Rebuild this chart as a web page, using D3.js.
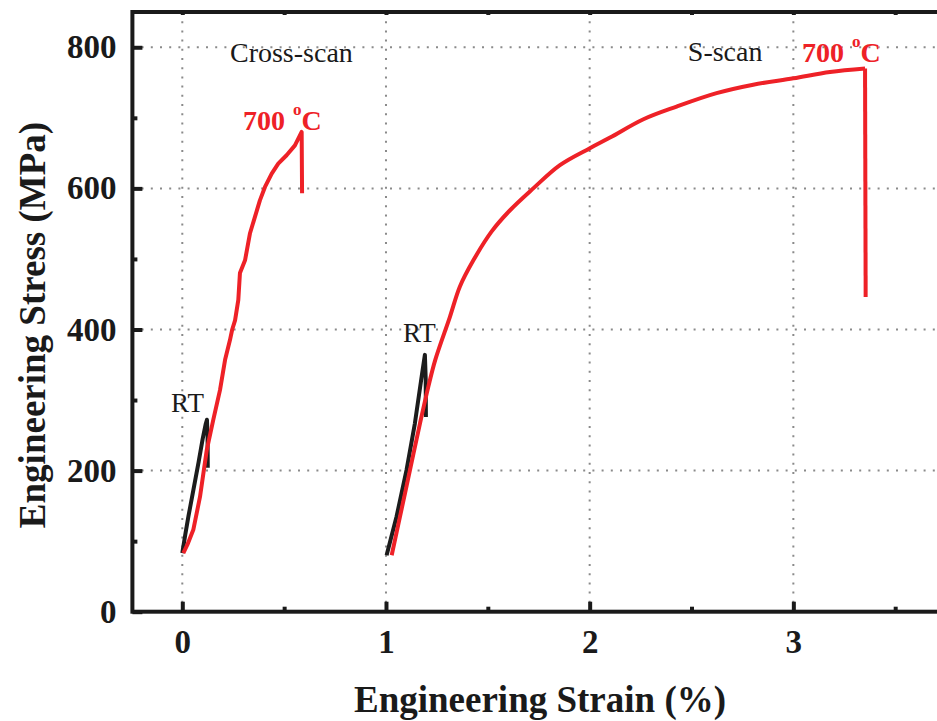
<!DOCTYPE html>
<head>
    <style>
    body { margin: 0; background: #fff; }
    svg { font-family: "Liberation Serif", "Times New Roman", serif; }
    .grid line { stroke: #8a8a8a; stroke-width: 2; stroke-dasharray: 2,7.2; }
    .axis .domain { display: none; }
    .axis line { stroke: #1a1a1a; stroke-width: 4; }
    .axis text { font-size: 33px; font-weight: bold; fill: #1a1a1a; font-family: "Liberation Serif", serif; }
    .frame { stroke: #1a1a1a; stroke-width: 4; fill: none; }
    .curve { fill: none; stroke-width: 4; stroke-linejoin: round; stroke-linecap: butt; }
    </style>
    <script src="https://d3js.org/d3.v7.min.js"></script>
</head>
<body>
    <svg width="937" height="721"></svg>
    <script>

    // strain (%), stress (MPa)
    var crossRT = [[0, 83], [0.015, 110], [0.03, 135], [0.054, 172], [0.08, 212], [0.1, 245], [0.115, 266], [0.121, 272], [0.124, 250], [0.125, 204]];
    var crossHT = [[0.005, 83], [0.025, 95], [0.054, 116], [0.087, 163], [0.12, 229], [0.152, 272], [0.185, 314], [0.21, 357], [0.234, 385], [0.245, 400],
                   [0.259, 413], [0.275, 442], [0.283, 480], [0.308, 498], [0.332, 536], [0.357, 560], [0.381, 583], [0.406, 602],
                   [0.439, 621], [0.471, 635], [0.512, 647], [0.553, 661], [0.586, 680], [0.588, 593]];
    var sRT = [[1.003, 80], [1.052, 135], [1.101, 201], [1.142, 267], [1.175, 333], [1.191, 364], [1.195, 330], [1.196, 276]];
    var sHT = [[1.028, 80], [1.069, 135], [1.118, 201], [1.167, 267], [1.208, 319], [1.242, 357], [1.314, 418], [1.363, 461],
               [1.429, 498], [1.519, 539], [1.609, 569], [1.723, 600], [1.854, 633], [2.001, 657], [2.1, 672],
               [2.264, 698], [2.427, 716], [2.623, 735], [2.803, 747], [3.0, 756], [3.18, 765], [3.352, 770]];
    var sHTDrop = [[3.352, 770], [3.355, 446]];

    var xTicks = [0, 1, 2, 3],
        xMinor = [0.5, 1.5, 2.5, 3.5],
        yTicks = [0, 200, 400, 600, 800],
        yMinor = [100, 300, 500, 700];

    var svg = d3.select("svg");

    var x = d3.scaleLinear().domain([-0.245, 3.72]).range([132.4, 940]);
    var y = d3.scaleLinear().domain([0, 850]).range([611.7, 12]);

    // dotted grid
    svg.append("g").attr("class", "grid")
      .selectAll("line").data(xTicks).enter().append("line")
        .attr("x1", function(d) { return x(d); }).attr("x2", function(d) { return x(d); })
        .attr("y1", y(850)).attr("y2", y(0));
    svg.append("g").attr("class", "grid")
      .selectAll("line").data(yTicks.slice(1)).enter().append("line")
        .attr("y1", function(d) { return y(d); }).attr("y2", function(d) { return y(d); })
        .attr("x1", x(-0.245)).attr("x2", x(3.72));

    // axes with inward ticks
    svg.append("g").attr("class", "axis")
        .attr("transform", "translate(0," + y(0) + ")")
        .call(d3.axisBottom(x).tickValues(xTicks).tickSizeInner(-10).tickSizeOuter(0).tickPadding(18).tickFormat(d3.format("d")));
    svg.append("g").attr("class", "axis")
        .attr("transform", "translate(0," + y(0) + ")")
        .call(d3.axisBottom(x).tickValues(xMinor).tickSizeInner(-5).tickSizeOuter(0).tickFormat(""));
    svg.append("g").attr("class", "axis")
        .attr("transform", "translate(0," + y(850) + ")")
        .call(d3.axisTop(x).tickValues(xTicks.concat(xMinor)).tickSizeInner(-3).tickSizeOuter(0).tickFormat(""));
    svg.append("g").attr("class", "axis")
        .attr("transform", "translate(" + x(-0.245) + ",0)")
        .call(d3.axisLeft(y).tickValues(yTicks).tickSizeInner(-10).tickSizeOuter(0).tickPadding(16).tickFormat(d3.format("d")));
    svg.append("g").attr("class", "axis")
        .attr("transform", "translate(" + x(-0.245) + ",0)")
        .call(d3.axisLeft(y).tickValues(yMinor).tickSizeInner(-5).tickSizeOuter(0).tickFormat(""));

    svg.append("rect").attr("class", "frame")
        .attr("x", x(-0.245)).attr("y", y(850))
        .attr("width", x(3.72) - x(-0.245)).attr("height", y(0) - y(850));

    // curves
    var line = d3.line().x(function(d) { return x(d[0]); }).y(function(d) { return y(d[1]); });
    var smooth = d3.line().curve(d3.curveCatmullRom.alpha(0.5))
        .x(function(d) { return x(d[0]); }).y(function(d) { return y(d[1]); });
    [[crossRT, "#1c1c1c", line], [sRT, "#1c1c1c", line], [crossHT, "#ee2127", line],
     [sHT, "#ee2127", smooth], [sHTDrop, "#ee2127", line]].forEach(function(s) {
      svg.append("path").attr("class", "curve").attr("d", s[2](s[0])).attr("stroke", s[1]);
    });

    // annotations
    function note(sx, sy, txt, size, weight, color) {
      return svg.append("text").attr("x", x(sx)).attr("y", y(sy))
          .attr("font-size", size).attr("font-weight", weight).attr("fill", color).text(txt);
    }
    note(0.234, 779, "Cross-scan", 28, "normal", "#1a1a1a");
    note(2.482, 780, "S-scan", 28, "normal", "#1a1a1a");
    note(-0.055, 283, "RT", 27, "normal", "#1a1a1a");
    note(1.083, 382, "RT", 27, "normal", "#1a1a1a");

    function hot(sx, sy) {
      var t = svg.append("text").attr("x", x(sx)).attr("y", y(sy))
          .attr("font-size", 28).attr("font-weight", "bold").attr("fill", "#ee2127");
      t.append("tspan").text("700");
      t.append("tspan").attr("dx", 8).attr("dy", -15).attr("font-size", 17).text("o");
      t.append("tspan").attr("dy", 15).text("C");
    }
    hot(0.298, 683);
    hot(3.042, 779);

    // axis titles
    svg.append("text").attr("x", 540).attr("y", 712).attr("text-anchor", "middle")
        .attr("font-size", 37).attr("font-weight", "bold").attr("fill", "#1a1a1a")
        .text("Engineering Strain (%)");
    svg.append("text").attr("transform", "translate(45,325) rotate(-90)").attr("text-anchor", "middle")
        .attr("font-size", 37).attr("font-weight", "bold").attr("fill", "#1a1a1a")
        .text("Engineering Stress (MPa)");

    </script>
</body>
